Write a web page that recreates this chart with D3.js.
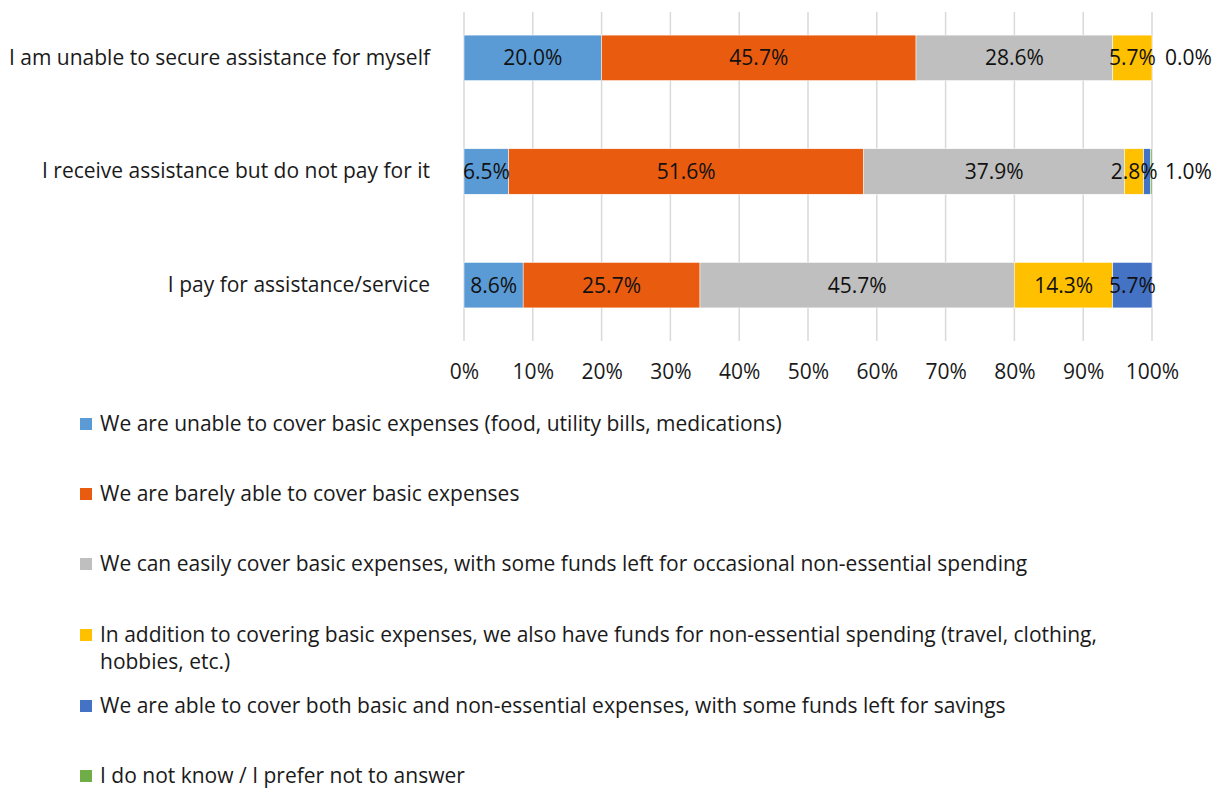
<!DOCTYPE html>
<html>
<head>
<meta charset="utf-8">
<script src="https://cdn.jsdelivr.net/npm/d3@7"></script>
<style>
  html, body { margin: 0; padding: 0; background: #fff; }
  svg { display: block; font-family: "Open Sans", "Noto Sans", sans-serif; }
</style>
</head>
<body>
<svg id="chart" width="1226" height="789"></svg>
<script>
// Situations regarding assistance (rows of the chart, top to bottom)
const categories = [
  "I am unable to secure assistance for myself",
  "I receive assistance but do not pay for it",
  "I pay for assistance/service"
];

// Financial situation answers (stack order, left to right)
const seriesNames = [
  "We are unable to cover basic expenses (food, utility bills, medications)",
  "We are barely able to cover basic expenses",
  "We can easily cover basic expenses, with some funds left for occasional non-essential spending",
  "In addition to covering basic expenses, we also have funds for non-essential spending (travel, clothing, hobbies, etc.)",
  "We are able to cover both basic and non-essential expenses, with some funds left for savings",
  "I do not know / I prefer not to answer"
];

// Share of respondents (%) per answer, one array per answer, indexed by row
const unableBasic   = [20.0, 6.5, 8.6];
const barelyBasic   = [45.7, 51.6, 25.7];
const easilyBasic   = [28.6, 37.9, 45.7];
const nonEssential  = [5.7, 2.8, 14.3];
const savings       = [0.0, 1.0, 5.7];
const dontKnow      = [0.0, 0.2, 0.0];

// Which answers carry value labels
const labelled = [true, true, true, true, true, false];

const xTicks = [0, 10, 20, 30, 40, 50, 60, 70, 80, 90, 100];

const colors = ["#5b9bd5", "#e95c10", "#bfbfbf", "#ffc000", "#4472c4", "#70ad47"];

const seriesValues = [unableBasic, barelyBasic, easilyBasic, nonEssential, savings, dontKnow];

const FONT = "'Open Sans', 'Noto Sans', sans-serif";
const FS = 21;

const rows = categories.map((c, i) => {
  const r = { category: c };
  seriesValues.forEach((vals, k) => { r["s" + k] = vals[i]; });
  return r;
});
const keys = seriesValues.map((_, k) => "s" + k);
const stacked = d3.stack().keys(keys)(rows);

const svg = d3.select("#chart");

const x = d3.scaleLinear().domain([0, 100]).range([464, 1152]);
const y = d3.scaleBand().domain(categories).range([1, 342]).paddingInner(0.6).paddingOuter(0.3);

// vertical gridlines
svg.append("g")
  .selectAll("line")
  .data(xTicks)
  .join("line")
  .attr("x1", d => x(d)).attr("x2", d => x(d))
  .attr("y1", 12).attr("y2", 341)
  .attr("stroke", "#d9d9d9")
  .attr("stroke-width", 1.5);

// x-axis tick labels
const xAxis = d3.axisBottom(x).tickValues(xTicks).tickFormat(d => d + "%").tickSize(0).tickPadding(0);
const gx = svg.append("g").attr("transform", "translate(0,372)").call(xAxis);
gx.select(".domain").remove();
gx.selectAll("text")
  .attr("dy", "0.35em")
  .attr("y", 0)
  .attr("font-size", FS)
  .attr("font-family", FONT)
  .attr("fill", "#1a1a1a");

// y-axis category labels
const yAxis = d3.axisLeft(y).tickSize(0).tickPadding(0);
const gy = svg.append("g").attr("transform", "translate(430,0)").call(yAxis);
gy.select(".domain").remove();
gy.selectAll("text")
  .attr("font-size", FS)
  .attr("font-family", FONT)
  .attr("fill", "#1a1a1a");

// stacked bars
const layers = svg.append("g")
  .selectAll("g")
  .data(stacked)
  .join("g")
  .attr("fill", (d, i) => colors[i]);

layers.selectAll("rect")
  .data(d => d.map(p => ({ p, cat: p.data.category })))
  .join("rect")
  .attr("x", d => x(d.p[0]))
  .attr("y", d => y(d.cat))
  .attr("width", d => Math.max(0, x(d.p[1]) - x(d.p[0])))
  .attr("height", y.bandwidth())
  .attr("stroke", "#fff")
  .attr("stroke-width", 0.5);

// value labels
const labelG = svg.append("g")
  .attr("font-size", FS)
  .attr("font-family", FONT)
  .attr("fill", "#111");

stacked.forEach((layer, k) => {
  if (!labelled[k]) return;
  layer.forEach(p => {
    const v = p[1] - p[0];
    const cy = y(p.data.category) + y.bandwidth() / 2;
    // very thin segments at the end of a bar get their label beside the bar
    const outside = k === 4 && v < 2;
    labelG.append("text")
      .attr("x", outside ? x(100) + 13 : x((p[0] + p[1]) / 2))
      .attr("y", cy)
      .attr("dy", "0.35em")
      .attr("text-anchor", outside ? "start" : "middle")
      .text(v.toFixed(1) + "%");
  });
});

// legend
const legendStarts = [424, 494, 564, 635, 706, 776];
const legend = svg.append("g")
  .attr("font-size", FS)
  .attr("font-family", FONT)
  .attr("fill", "#1a1a1a");

seriesNames.forEach((name, i) => {
  const cy = legendStarts[i];
  legend.append("rect")
    .attr("x", 80).attr("y", cy - 6)
    .attr("width", 12).attr("height", 12)
    .attr("fill", colors[i]);
  const t = legend.append("text")
    .attr("x", 100).attr("y", cy);
  // wrap long entries
  const words = name.split(" ");
  let line = [];
  let tspan = t.append("tspan").attr("x", 100).attr("dy", "0.35em");
  words.forEach(w => {
    line.push(w);
    tspan.text(line.join(" "));
    if (tspan.node().getComputedTextLength() > 1040 && line.length > 1) {
      line.pop();
      tspan.text(line.join(" "));
      line = [w];
      tspan = t.append("tspan").attr("x", 100).attr("dy", "27px").text(w);
    }
  });
});
</script>
</body>
</html>
